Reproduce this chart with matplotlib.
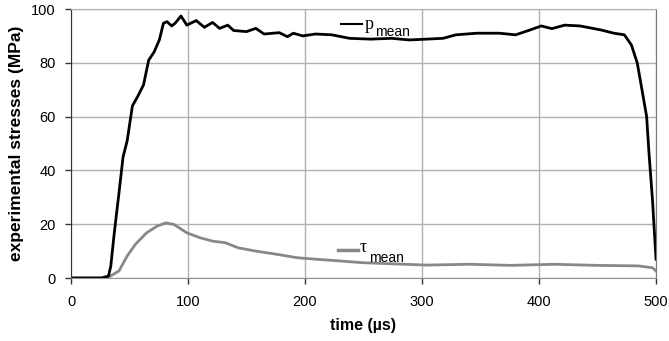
import numpy as np
from matplotlib import pyplot as plt

plt.rcParams['font.family'] = ['Liberation Sans', 'DejaVu Sans']

# p_mean
t_p = [0, 10, 26, 32, 34, 37, 41, 44.5, 48, 52.5, 57, 62, 66.4, 71, 75.5, 79, 82, 86, 89, 94,
       99, 107, 114, 121, 127, 134, 139, 150, 158, 165, 178, 185, 190, 198, 209, 223, 238,
       256, 274, 289, 304, 318, 329, 347, 366, 380, 391, 402, 411, 422, 435, 446, 453, 464,
       473, 479, 484, 488, 492, 494, 497, 500]
p_mean = [0, 0, 0, 0.7, 4.4, 16.8, 31.6, 45, 51, 64, 67.5, 71.8, 81, 84, 88.5, 94.7, 95.3, 93.7,
          94.7, 97.4, 94, 95.7, 93.2, 95, 92.8, 94, 92, 91.6, 92.8, 90.7, 91.2, 89.7, 91, 90,
          90.7, 90.4, 89.1, 88.8, 89.1, 88.5, 88.8, 89.1, 90.4, 91, 91, 90.4, 92, 93.7, 92.7,
          94, 93.7, 92.8, 92.2, 91, 90.4, 86.6, 79.9, 70, 60, 46.5, 29, 7]

# tau_mean
t_tau = [0, 10, 26, 33.6, 41, 48, 55, 64.6, 73.7, 81, 88, 99, 110, 121, 132, 143, 158, 176,
         194, 212, 231, 249, 267, 304, 340, 376, 413, 449, 485, 497, 500]
tau_mean = [0, 0, 0, 0.7, 2.6, 8.2, 12.5, 16.8, 19.3, 20.5, 19.9, 16.8, 15, 13.7, 13.1, 11.2,
            10, 8.8, 7.5, 6.9, 6.3, 5.7, 5.4, 4.8, 5.1, 4.7, 5.1, 4.7, 4.5, 3.8, 2.6]

fig = plt.figure(figsize=(6.69, 3.41), dpi=100)
ax = fig.add_axes([71 / 669, 1 - 278 / 341, 585 / 669, 269 / 341])

ax.plot(t_tau, tau_mean, color='#888888', lw=2)
ax.plot(t_p, p_mean, color='black', lw=2)

ax.set_xlim(0, 500)
ax.set_ylim(0, 100)
ax.set_xticks(np.arange(0, 501, 100))
ax.set_yticks(np.arange(0, 101, 20))
ax.grid(color='#b0b0b0', lw=1)
ax.set_axisbelow(True)
ax.spines['top'].set_color('#b0b0b0')
ax.spines['bottom'].set_color('#909090')
ax.spines['right'].set_color('#777777')
ax.spines['left'].set_color('#333333')
ax.tick_params(labelsize=10.5, length=4, direction='out', width=1, colors='#333333',
               labelcolor='black')
ax.tick_params(axis='x', pad=8)
ax.tick_params(axis='y', pad=7)
ax.set_xlabel('time (µs)', fontsize=11.5, fontweight='bold', labelpad=7)
ax.set_ylabel('experimental stresses (MPa)', fontsize=12.5, fontweight='bold', labelpad=5)

# inline labels
ax.plot([231, 249], [94.4, 94.4], color='black', lw=1.5)
ax.text(251, 94.4, r'p', family='Liberation Serif', fontsize=13, va='center')
ax.text(260, 91.5, 'mean', fontsize=10, va='center')
ax.plot([228, 245], [10.4, 10.4], color='#888888', lw=2.5)
ax.text(247, 11.2, 'τ', family='Liberation Serif', fontsize=13, va='center')
ax.text(255, 7.5, 'mean', fontsize=10, va='center')

fig.savefig('out.png', dpi=100)
